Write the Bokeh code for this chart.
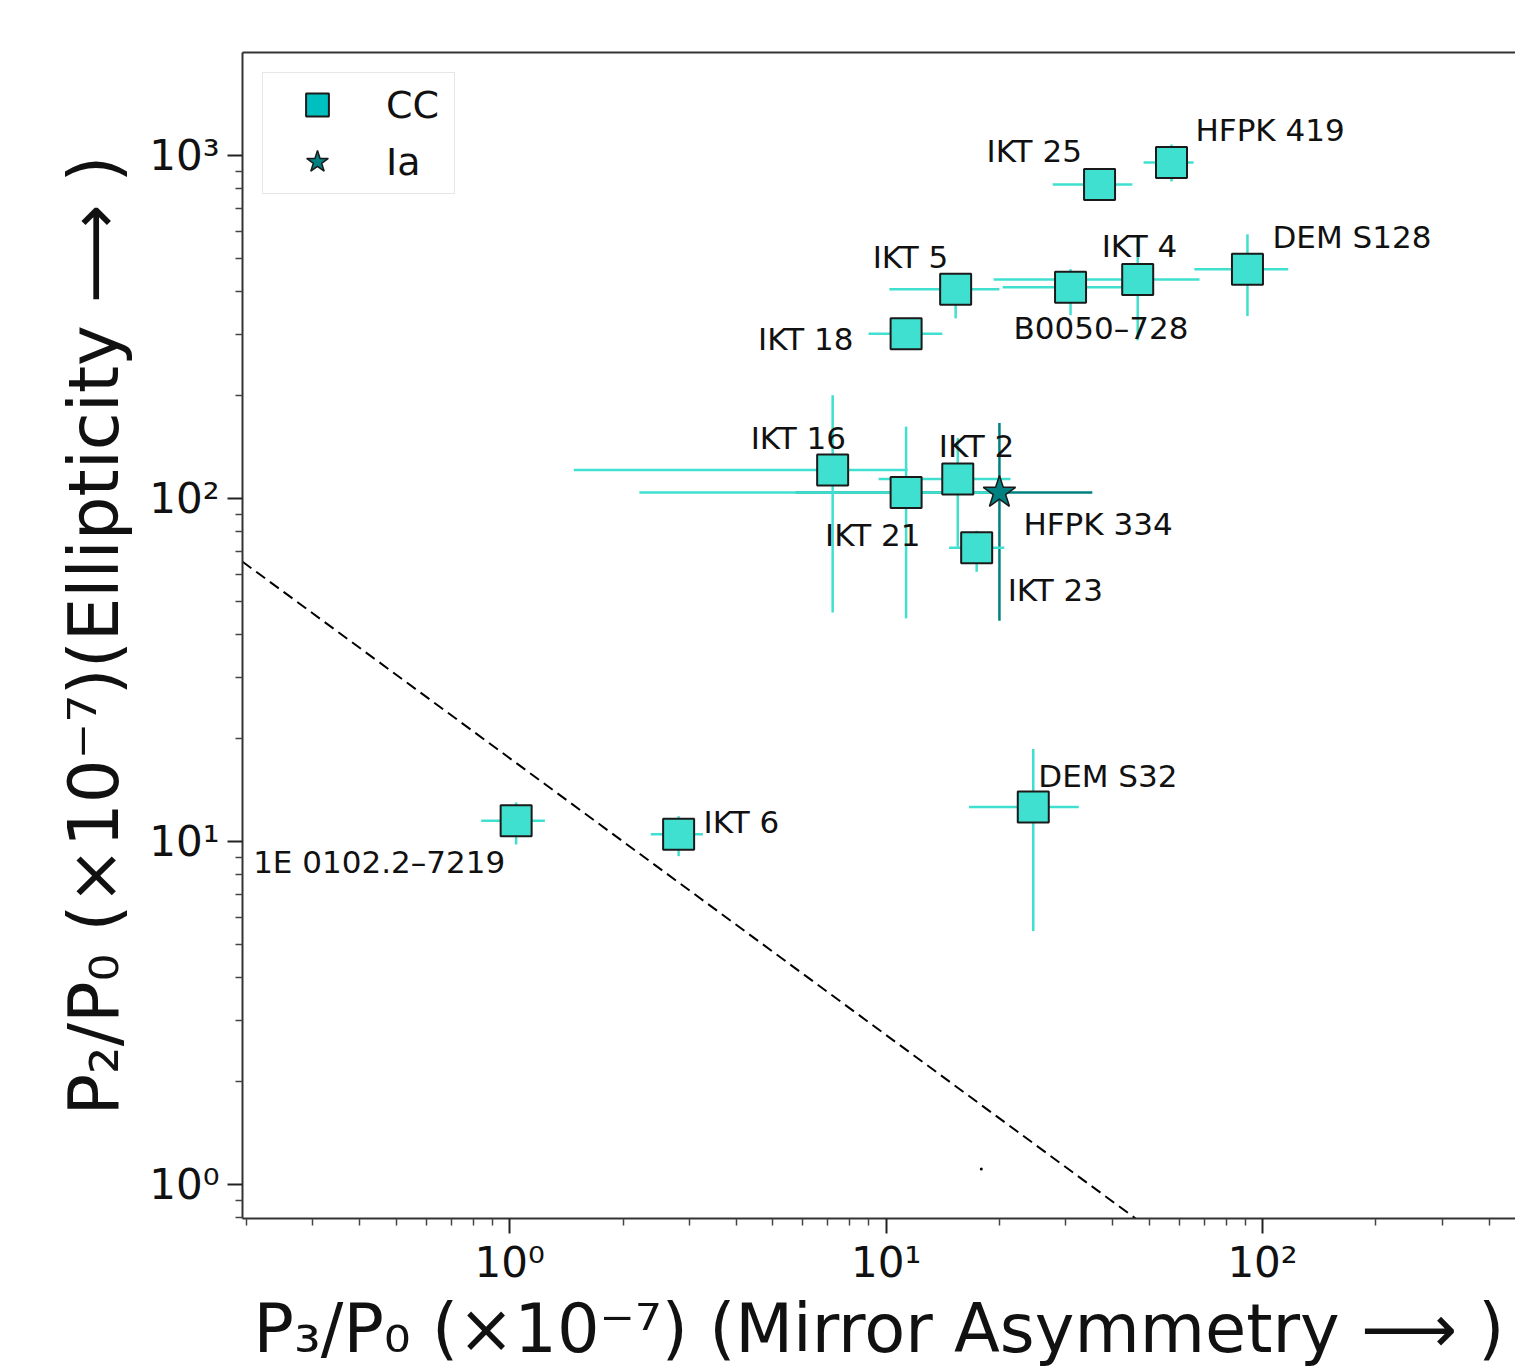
from bokeh.plotting import figure
from bokeh.models import (ColumnDataSource, Range1d, FixedTicker, CustomJSTickFormatter,
                          Legend, LegendItem, LogAxis)
from bokeh.core.properties import value
from bokeh.embed import file_html
from bokeh.resources import INLINE

# ---------------- data ----------------
cc_names = ["1E 0102.2\u20137219", "IKT 6", "DEM S32", "IKT 16", "IKT 21", "IKT 2",
            "IKT 23", "IKT 18", "IKT 5", "B0050\u2013728", "IKT 4", "DEM S128",
            "IKT 25", "HFPK 419"]
cc_x    = [1.04, 2.81, 24.6, 7.21, 11.3, 15.5, 17.4, 11.3, 15.3, 30.9, 46.6, 91.2, 36.9, 57.3]
cc_y    = [11.5, 10.5, 12.6, 121, 104, 114, 71.8, 302, 407, 413, 435, 466, 823, 953]
cc_x_lo = [0.84, 2.37, 16.6, 1.48, 2.21, 9.55, 14.7, 8.98, 10.2, 20.4, 19.3, 65.9, 27.7, 48.3]
cc_x_hi = [1.24, 3.26, 32.5, 11.4, 20.0, 21.4, 20.6, 14.1, 20.0, 47.4, 68.0, 117, 45.1, 65.6]
cc_y_lo = [9.8, 9.06, 5.48, 46.5, 44.7, 72.3, 61.1, 290, 335, 342, 289, 340, 790, 839]
cc_y_hi = [13.0, 11.85, 18.6, 200, 162, 150, 80.5, 315, 445, 466, 577, 589, 860, 1076]

ia_names = ["HFPK 334"]
ia_x     = [20.0]
ia_y     = [104]
ia_x_lo  = [5.75]
ia_x_hi  = [35.3]
ia_y_lo  = [44.0]
ia_y_hi  = [166]

# dividing (dashed) line endpoints
div_x = [0.195, 46.0]
div_y = [65.4, 0.796]

# stray dot
dot_x = [17.9]
dot_y = [1.11]

x_major = [1, 10, 100]
y_major = [1, 10, 100, 1000]

# ---------------- label placement (screen px offsets from point) ----------------
cc_dx = [-263, 25, 5, -82, -81, -19, 31, -148, -83, -57, -36, 25, -113, 24]
cc_dy = [41, -12, -31, -32, 42, -33, 42, 5, -32, 41, -33, -32, -33, -33]
ia_dx = [24]
ia_dy = [31]

FONT = "DejaVu Sans"
TURQ = "#40e0d0"
TEAL = "#008080"
NAN = float("nan")

p = figure(width=1515, height=1370, x_axis_type="log", y_axis_type="log",
           x_range=Range1d(0.195, 470), y_range=Range1d(0.796, 1995),
           output_backend="svg", toolbar_location=None,
           min_border_left=242, min_border_top=52, min_border_right=0,
           min_border_bottom=146)
p.outline_line_color = None
p.xgrid.visible = False
p.ygrid.visible = False
p.background_fill_color = "white"
p.border_fill_color = "white"

def minor_list(lo, hi):
    out = []
    for e in range(lo, hi + 1):
        for m in range(2, 10):
            out.append(m * 10.0 ** e)
    return out

fmt = CustomJSTickFormatter(code="""
const e = Math.round(Math.log10(tick));
const sup = {"0":"\u2070","1":"\u00b9","2":"\u00b2","3":"\u00b3","4":"\u2074","-":"\u207b"};
return "10" + String(e).split("").map(c => sup[c]).join("");
""")

for ax, major, lo, hi in [(p.xaxis[0], x_major, -1, 2), (p.yaxis[0], y_major, -1, 3)]:
    ax.ticker = FixedTicker(ticks=major, minor_ticks=minor_list(lo, hi))
    ax.formatter = fmt
    ax.major_label_text_font = FONT
    ax.major_label_text_font_size = "42px"
    ax.major_label_text_color = "#111111"
    ax.axis_label_text_font = FONT
    ax.axis_label_text_font_style = "normal"
    ax.axis_label_text_color = "#111111"
    ax.axis_line_color = "#333333"
    ax.axis_line_width = 2
    ax.major_tick_line_color = "#222222"
    ax.major_tick_line_width = 2
    ax.minor_tick_line_color = "#444444"
    ax.minor_tick_line_width = 1.5
    ax.major_tick_out = 15
    ax.major_tick_in = 0
    ax.minor_tick_out = 7
    ax.minor_tick_in = 0

p.xaxis.axis_label_text_font_size = "67px"
p.yaxis.axis_label_text_font_size = "69px"
p.xaxis.axis_label = "P\u2083/P\u2080 (\u00d710\u207b\u2077) (Mirror Asymmetry \u27f6 )"
p.yaxis.axis_label = "P\u2082/P\u2080 (\u00d710\u207b\u2077)(Ellipticity \u27f6 )"
p.xaxis.major_label_standoff = 4
p.yaxis.major_label_standoff = 8
p.xaxis.axis_label_standoff = 0
p.yaxis.axis_label_standoff = 12

top_axis = LogAxis(ticker=FixedTicker(ticks=[]), axis_line_color="#333333", axis_line_width=2,
                   major_tick_line_color=None, minor_tick_line_color=None,
                   major_label_text_font_size="1px")
p.add_layout(top_axis, "above")

cc_src = ColumnDataSource(dict(x=cc_x, y=cc_y, xlo=cc_x_lo, xhi=cc_x_hi, ylo=cc_y_lo,
                               yhi=cc_y_hi, name=cc_names, dx=cc_dx, dy=cc_dy))
ia_src = ColumnDataSource(dict(x=ia_x, y=ia_y, xlo=ia_x_lo, xhi=ia_x_hi, ylo=ia_y_lo,
                               yhi=ia_y_hi, name=ia_names, dx=ia_dx, dy=ia_dy))

# dashed line
p.line(div_x, div_y, line_color="black", line_width=2, line_dash="11 6")

# error bars
p.segment(x0="xlo", x1="xhi", y0="y", y1="y", source=ia_src, line_color=TEAL, line_width=2.5)
p.segment(x0="x", x1="x", y0="ylo", y1="yhi", source=ia_src, line_color=TEAL, line_width=2.5)
p.segment(x0="xlo", x1="xhi", y0="y", y1="y", source=cc_src, line_color=TURQ, line_width=2.5)
p.segment(x0="x", x1="x", y0="ylo", y1="yhi", source=cc_src, line_color=TURQ, line_width=2.5)

# markers
p.scatter(x="x", y="y", source=cc_src, marker="square", size=31, fill_color=TURQ,
          line_color="#1a1a1a", line_width=2)
p.scatter(x="x", y="y", source=ia_src, marker="star", size=34, fill_color=TEAL,
          line_color="#1a1a1a", line_width=1.5)

p.scatter(x=dot_x, y=dot_y, marker="circle", size=3, fill_color="black", line_color=None)

# labels
for src in (cc_src, ia_src):
    p.text(x="x", y="y", text="name", source=src, x_offset="dx", y_offset="dy",
           text_align="left", text_baseline="middle", text_font=value(FONT),
           text_font_size="31px", text_color="#111111")

# legend handles (not drawn in the plot area)
leg_cc = p.scatter(x=[NAN], y=[NAN], marker="square", size=26, fill_color="#00bfbf",
                   line_color="#1a1a1a", line_width=2)
leg_ia = p.scatter(x=[NAN], y=[NAN], marker="star", size=28, fill_color=TEAL,
                   line_color="#1a1a1a", line_width=1.5)
legend = Legend(items=[LegendItem(label="CC", renderers=[leg_cc]),
                       LegendItem(label="Ia", renderers=[leg_ia])],
                location="top_left", margin=20, padding=3, spacing=0,
                glyph_width=102, glyph_height=57, label_height=57, label_standoff=18,
                label_width=65,
                label_text_font=FONT, label_text_font_size="38px", label_text_color="#111111",
                border_line_color="#d0d0d0", border_line_width=1.5,
                background_fill_color="white", background_fill_alpha=0.8)
p.add_layout(legend)

open("out.html", "w").write(file_html(p, INLINE))
